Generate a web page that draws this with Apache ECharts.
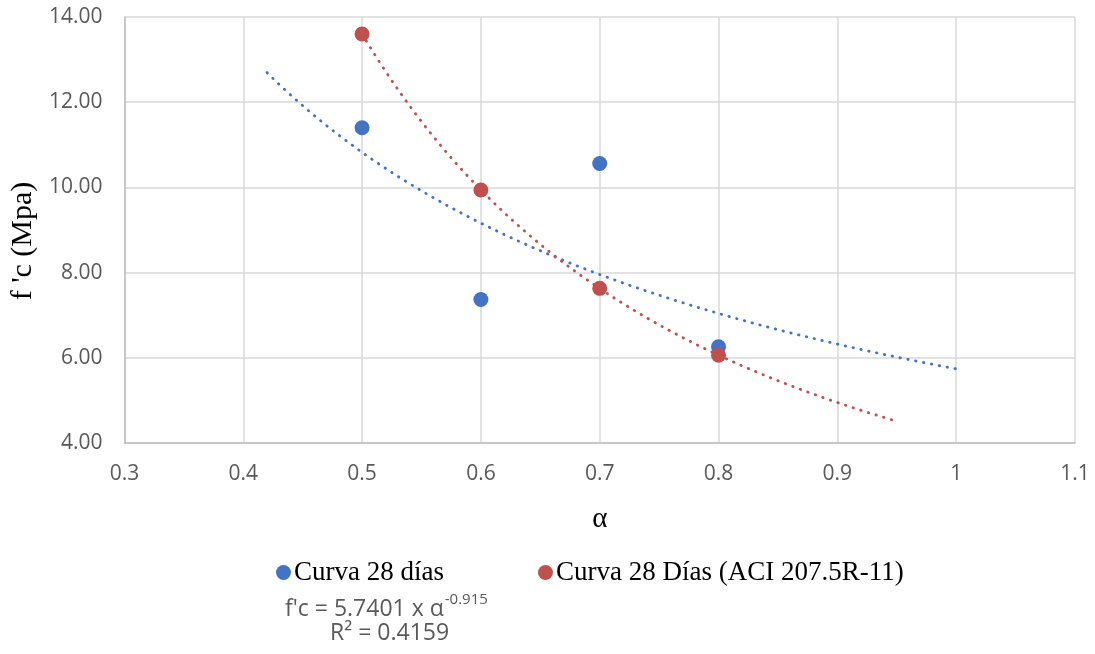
<!DOCTYPE html>
<html>
<head>
<meta charset="utf-8">
<script src="https://cdn.jsdelivr.net/npm/echarts@6/dist/echarts.min.js"></script>
<style>
  html, body { margin: 0; padding: 0; background: #fff; }
  #chart { width: 1095px; height: 654px; }
</style>
</head>
<body>
<div id="chart"></div>
<script>
// Water/cement ratio (α) and compressive strength f'c (MPa)
const alphaValues = [0.5, 0.6, 0.7, 0.8];
const fc28 = [11.4, 7.37, 10.56, 6.26];        // Curva 28 días
const fc28Aci = [13.6, 9.94, 7.63, 6.06];      // Curva 28 Días (ACI 207.5R-11)

// Power trendline of the measured series: f'c = a · α^b
const trendCoefA = 5.7401;
const trendCoefB = -0.915;
const trendR2 = 0.4159;
const trendRange = [0.42, 1.0];     // blue trendline extent (with backward/forward forecast)
const aciTrendRange = [0.5, 0.95];  // red trendline extent

const xTicks = [0.3, 0.4, 0.5, 0.6, 0.7, 0.8, 0.9, 1, 1.1];
const yTicks = [4, 6, 8, 10, 12, 14];

const seriesNames = ['Curva 28 días', 'Curva 28 Días (ACI 207.5R-11)'];
const BLUE = '#4472C4';
const RED = '#C0504D';

// Least-squares power fit (linear regression in log-log space)
function powerFit(xs, ys) {
  const lx = xs.map(Math.log), ly = ys.map(Math.log);
  const n = xs.length;
  const mx = lx.reduce((s, v) => s + v, 0) / n;
  const my = ly.reduce((s, v) => s + v, 0) / n;
  let sxy = 0, sxx = 0;
  for (let i = 0; i < n; i++) { sxy += (lx[i] - mx) * (ly[i] - my); sxx += (lx[i] - mx) ** 2; }
  const b = sxy / sxx;
  return { a: Math.exp(my - b * mx), b };
}

function sampleCurve(a, b, range) {
  const pts = [];
  const steps = 120;
  for (let i = 0; i <= steps; i++) {
    const x = range[0] + (range[1] - range[0]) * i / steps;
    pts.push([x, a * Math.pow(x, b)]);
  }
  return pts;
}

const aciFit = powerFit(alphaValues, fc28Aci);
const blueTrend = sampleCurve(trendCoefA, trendCoefB, trendRange);
const redTrend = sampleCurve(aciFit.a, aciFit.b, aciTrendRange);

const chart = echarts.init(document.getElementById('chart'), null, { renderer: 'canvas' });

const dottedLine = (color) => ({ color, width: 2.8, type: [0.5, 7.5], cap: 'round' });
const SANS = 'Open Sans';
const SERIF = 'Liberation Serif';
const GREY_TEXT = '#595959';

chart.setOption({
  animation: false,
  backgroundColor: '#fff',
  grid: { left: 124, right: 20, top: 17, bottom: 211, containLabel: false },
  xAxis: {
    type: 'value',
    min: 0.3, max: 1.1, interval: 0.1,
    name: 'α',
    nameLocation: 'middle',
    nameGap: 62,
    nameTextStyle: { fontFamily: SERIF, fontSize: 29, color: '#000' },
    axisLine: { show: true, lineStyle: { color: '#bfbfbf', width: 1.5 } },
    axisTick: { show: false },
    splitLine: { show: true, lineStyle: { color: '#d9d9d9', width: 1.5 } },
    axisLabel: {
      fontFamily: SANS, fontSize: 21, color: GREY_TEXT, margin: 21,
      formatter: v => xTicks.find(t => Math.abs(t - v) < 1e-6) !== undefined ? String(+v.toFixed(1)) : ''
    }
  },
  yAxis: {
    type: 'value',
    min: 4, max: 14, interval: 2,
    name: "f 'c (Mpa)",
    nameLocation: 'middle',
    nameGap: 80,
    nameRotate: 90,
    nameTextStyle: { fontFamily: SERIF, fontSize: 30, color: '#000', padding: [0, 22, 0, 0] },
    axisLine: { show: true, lineStyle: { color: '#bfbfbf', width: 1.5 } },
    axisTick: { show: false },
    splitLine: { show: true, lineStyle: { color: '#d9d9d9', width: 1.5 } },
    axisLabel: {
      fontFamily: SANS, fontSize: 21, color: GREY_TEXT, margin: 22,
      formatter: v => yTicks.includes(v) ? v.toFixed(2) : ''
    }
  },
  legend: {
    data: seriesNames.map(name => ({ name, icon: 'circle' })),
    left: 271, top: 554,
    itemWidth: 15, itemHeight: 15,
    itemGap: 94,
    textStyle: { fontFamily: SERIF, fontSize: 27, color: '#000', padding: [0, 0, 0, -2] }
  },
  graphic: [
    {
      type: 'text',
      left: 285, top: 592,
      style: {
        text: "{t|f'c = 5.7401 x α}{s|" + trendCoefB + "}",
        rich: {
          t: { fontFamily: SANS, fontSize: 23, fill: GREY_TEXT, lineHeight: 32, verticalAlign: 'bottom' },
          s: { fontFamily: SANS, fontSize: 15, fill: GREY_TEXT, lineHeight: 32, verticalAlign: 'bottom', padding: [0, 0, 14, 1] }
        }
      }
    },
    {
      type: 'text',
      left: 330, top: 622,
      style: {
        text: 'R² = ' + trendR2,
        fontFamily: SANS, fontSize: 23, fill: GREY_TEXT
      }
    }
  ],
  series: [
    {
      name: seriesNames[0] + ' trend',
      type: 'line',
      data: blueTrend,
      showSymbol: false,
      lineStyle: dottedLine(BLUE),
      z: 2, silent: true
    },
    {
      name: seriesNames[1] + ' trend',
      type: 'line',
      data: redTrend,
      showSymbol: false,
      lineStyle: dottedLine(RED),
      z: 2, silent: true
    },
    {
      name: seriesNames[0],
      type: 'scatter',
      data: alphaValues.map((x, i) => [x, fc28[i]]),
      symbol: 'circle',
      symbolSize: 15,
      itemStyle: { color: BLUE, opacity: 1 },
      z: 3
    },
    {
      name: seriesNames[1],
      type: 'scatter',
      data: alphaValues.map((x, i) => [x, fc28Aci[i]]),
      symbol: 'circle',
      symbolSize: 15,
      itemStyle: { color: RED, opacity: 1 },
      z: 4
    }
  ]
});
</script>
</body>
</html>
